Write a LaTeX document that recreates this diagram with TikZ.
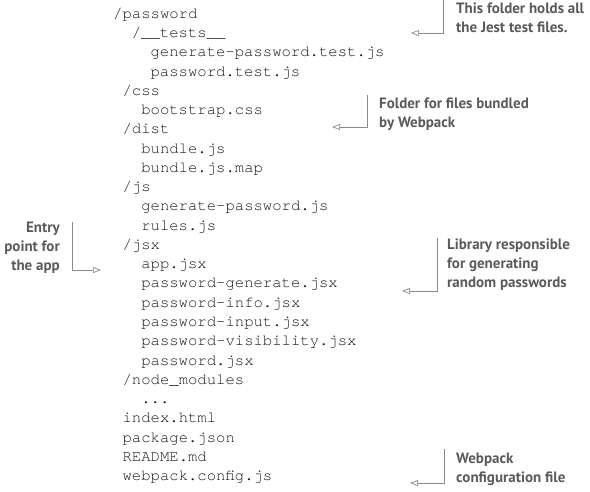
\documentclass[tikz,border=0pt]{standalone}
\usepackage{fontspec}
\usepackage{tikz}
\usetikzlibrary{arrows.meta, positioning}
\newfontfamily\codefont{TeX Gyre Cursor}
\newfontfamily\notefont{PT Sans}[BoldFont={* Bold}]
\definecolor{cCode}   {HTML}{1A1A1A}
\definecolor{cNote}   {HTML}{5A5A5A}
\definecolor{cPointer}{HTML}{8A8A8A}

\begin{document}
\begin{tikzpicture}[x=1pt, y=-1pt,
    code/.style={anchor=base west, inner sep=0pt, text=cCode,
      font=\codefont\fontsize{15.6}{19}\selectfont},
    note/.style={inner sep=0pt, text=cNote, align=left,
      font=\notefont\bfseries\fontsize{15}{18.8}\selectfont},
    pointer/.style={draw=cPointer, line width=0.7pt,
      -{Triangle[open, length=8pt, width=6pt]}},
  ]
  \useasboundingbox (0,0) rectangle (590,492);

  % project tree
  \node[code] (root)      at (113.0, 18.5)  {/password};
  \node[code] (tests)     at (131.7, 37.75) {/\_\_tests\_\_};
  \node[code] (gentest)   at (150.4, 57)    {generate-password.test.js};
  \node[code] (pwtest)    at (150.4, 76.25) {password.test.js};
  \node[code] (css)       at (122.4, 95.5)  {/css};
  \node[code] (bootstrap) at (141.1, 114.75){bootstrap.css};
  \node[code] (dist)      at (122.4, 134)   {/dist};
  \node[code] (bundle)    at (141.1, 153.25){bundle.js};
  \node[code] (bundlemap) at (141.1, 172.5) {bundle.js.map};
  \node[code] (js)        at (122.4, 191.75){/js};
  \node[code] (genjs)     at (141.1, 211)   {generate-password.js};
  \node[code] (rules)     at (141.1, 230.25){rules.js};
  \node[code] (jsx)       at (122.4, 249.5) {/jsx};
  \node[code] (app)       at (141.1, 268.75){app.jsx};
  \node[code] (pwgen)     at (141.1, 288)   {password-generate.jsx};
  \node[code] (pwinfo)    at (141.1, 307.25){password-info.jsx};
  \node[code] (pwinput)   at (141.1, 326.5) {password-input.jsx};
  \node[code] (pwvis)     at (141.1, 345.75){password-visibility.jsx};
  \node[code] (pwjsx)     at (141.1, 365)   {password.jsx};
  \node[code] (modules)   at (122.4, 384.25){/node\_modules};
  \node[code] (dots)      at (141.1, 403.5) {...};
  \node[code] (index)     at (122.4, 422.75){index.html};
  \node[code] (package)   at (122.4, 442)   {package.json};
  \node[code] (readme)    at (122.4, 461.25){README.md};
  \node[code] (webpack)   at (122.4, 480.5) {webpack.config.js};

  % callouts
  \node[note, anchor=north west] (jestnote) at (456, 3)
    {This folder holds all\\the Jest test files.};
  \node[note, anchor=north west] (distnote) at (379, 97.5)
    {Folder for files bundled\\by Webpack};
  \node[note, anchor=north west] (libnote) at (447, 239)
    {Library responsible\\for generating\\random passwords};
  \node[note, anchor=north west] (confnote) at (456, 452.5)
    {Webpack\\configuration file};
  \node[note, anchor=north east, align=right] (entrynote) at (60, 222)
    {Entry\\point for\\the app};

  \coordinate (jesttop)   at (443, -1);
  \coordinate (jesttip)   at (411, 33);
  \coordinate (disttop)   at (367, 95);
  \coordinate (disttip)   at (332, 127);
  \coordinate (libtop)    at (437, 238);
  \coordinate (libtip)    at (402, 291);
  \coordinate (conftop)   at (444, 449);
  \coordinate (conftip)   at (410, 483);
  \coordinate (entrytop)  at (72, 222);
  \coordinate (entrytip)  at (101, 270);

  \draw[pointer] (jesttop)  |- (jesttip);
  \draw[pointer] (disttop)  |- (disttip);
  \draw[pointer] (libtop)   |- (libtip);
  \draw[pointer] (conftop)  |- (conftip);
  \draw[pointer] (entrytop) |- (entrytip);
\end{tikzpicture}
\end{document}
